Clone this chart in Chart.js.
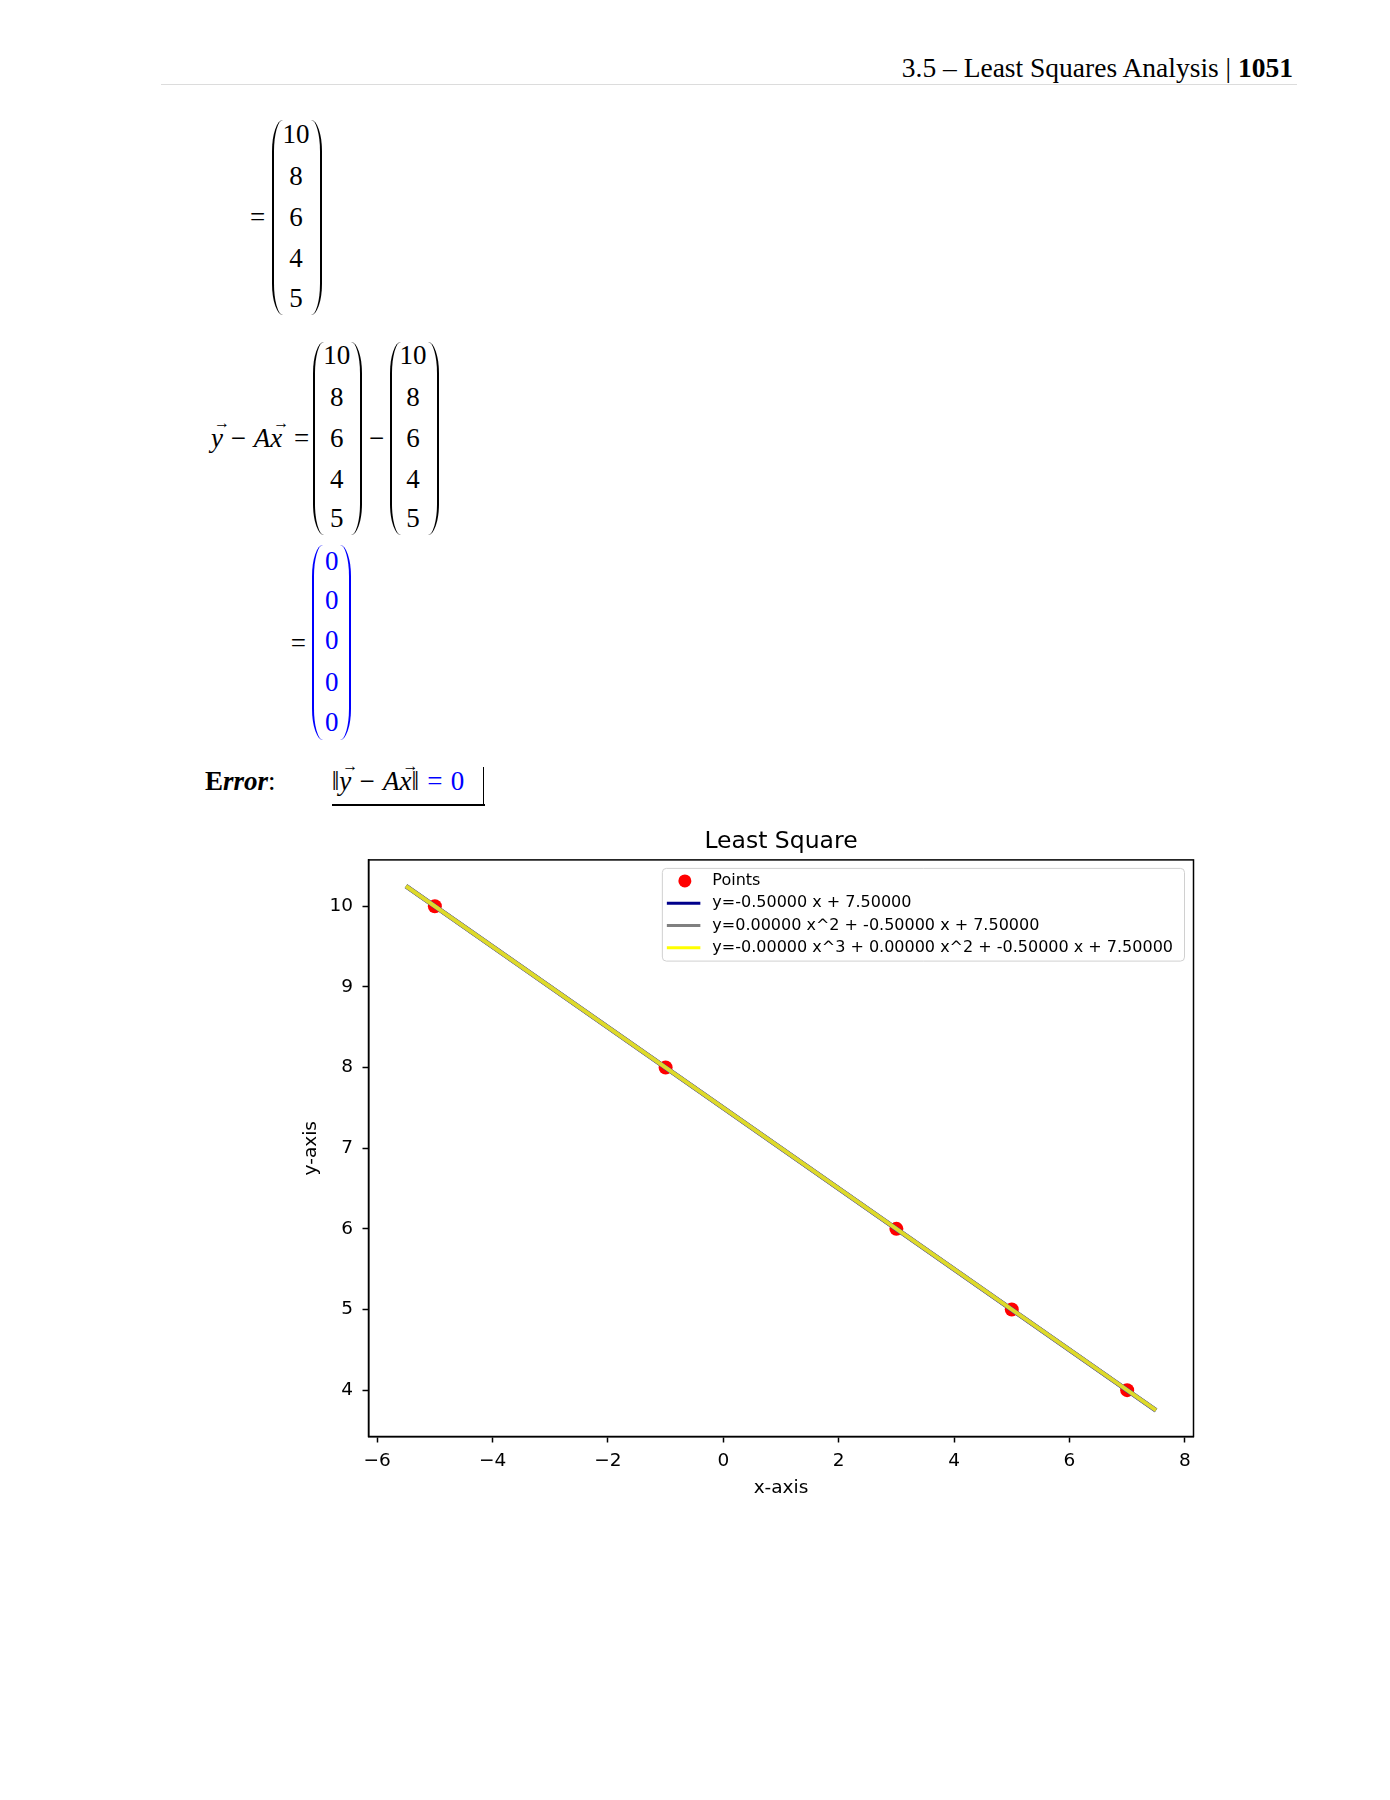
<!DOCTYPE html>
<html>
<head>
<meta charset="utf-8">
<script src="https://cdn.jsdelivr.net/npm/chart.js@4.4.0/dist/chart.umd.min.js"></script>
<style>
html,body{margin:0;padding:0;background:#fff;}
#page{position:relative;width:1390px;height:1800px;overflow:hidden;background:#fff;}
.s{position:absolute;font-family:'Liberation Serif','Times New Roman',serif;font-size:27px;line-height:1;color:#000;white-space:nowrap;}
.c{transform:translate(-50%,-50%);}
.lp,.rp{position:absolute;width:11px;box-sizing:border-box;}
.lp{border-left:2px solid #000;border-radius:12px 0 0 12px / 34px 0 0 34px;}
.rp{border-right:2px solid #000;border-radius:0 12px 12px 0 / 0 34px 34px 0;}
.blue{color:#0000ff;}
.lp.blue{border-left-color:#0000ff;}
.rp.blue{border-right-color:#0000ff;}
.v{position:relative;display:inline-block;font-style:italic;}
.v::before{content:'\2192';position:absolute;font-style:normal;font-size:16px;left:3px;top:-10px;}
.i{font-style:italic;}
#chartBox{position:absolute;left:250px;top:800px;width:1000px;height:700px;}
</style>
</head>
<body>
<div id="page">
  <!-- running header -->
  <div class="s" style="right:97px;top:53.5px;font-size:27.5px;">3.5 – Least Squares Analysis | <b>1051</b></div>
  <div style="position:absolute;left:161px;top:83.5px;width:1136px;height:1px;background:#dcdcdc;"></div>

  <!-- matrix 1 -->
  <div class="s c" style="left:257.5px;top:217px;">=</div>
  <div class="lp" style="left:272px;top:120px;height:195px;"></div>
  <div class="rp" style="left:310.5px;top:120px;height:195px;"></div>
  <div class="s c" style="left:296px;top:134px;">10</div>
  <div class="s c" style="left:296px;top:175.7px;">8</div>
  <div class="s c" style="left:296px;top:216.7px;">6</div>
  <div class="s c" style="left:296px;top:258.3px;">4</div>
  <div class="s c" style="left:296px;top:298px;">5</div>

  <!-- y - Ax = ... -->
  <div class="s" style="left:211px;top:424.5px;word-spacing:1px;"><span class="v">y</span> − <span class="i">A</span><span class="v">x</span><span style="margin-left:4px;"> =</span></div>
  <div class="lp" style="left:313px;top:342px;height:193px;"></div>
  <div class="rp" style="left:351px;top:342px;height:193px;"></div>
  <div class="s c" style="left:336.7px;top:355px;">10</div>
  <div class="s c" style="left:336.7px;top:396.7px;">8</div>
  <div class="s c" style="left:336.7px;top:438px;">6</div>
  <div class="s c" style="left:336.7px;top:479px;">4</div>
  <div class="s c" style="left:336.7px;top:518px;">5</div>
  <div class="s c" style="left:376.5px;top:438px;">−</div>
  <div class="lp" style="left:390px;top:342px;height:193px;"></div>
  <div class="rp" style="left:428px;top:342px;height:193px;"></div>
  <div class="s c" style="left:413px;top:355px;">10</div>
  <div class="s c" style="left:413px;top:396.7px;">8</div>
  <div class="s c" style="left:413px;top:438px;">6</div>
  <div class="s c" style="left:413px;top:479px;">4</div>
  <div class="s c" style="left:413px;top:518px;">5</div>

  <!-- = zero vector -->
  <div class="s c" style="left:298.3px;top:643px;">=</div>
  <div class="lp blue" style="left:311.7px;top:545px;height:195px;"></div>
  <div class="rp blue" style="left:339.5px;top:545px;height:195px;"></div>
  <div class="s c blue" style="left:331.7px;top:560.7px;">0</div>
  <div class="s c blue" style="left:331.7px;top:600px;">0</div>
  <div class="s c blue" style="left:331.7px;top:640px;">0</div>
  <div class="s c blue" style="left:331.7px;top:681.7px;">0</div>
  <div class="s c blue" style="left:331.7px;top:721.7px;">0</div>

  <!-- Error -->
  <div class="s" style="left:205px;top:768px;"><b>E</b><b><i>rror</i></b>:</div>
  <div class="s" style="left:331.7px;top:768px;word-spacing:1.5px;">‖<span class="v">y</span> − <span class="i">A</span><span class="v">x</span>‖<span class="blue"> = 0</span></div>
  <div style="position:absolute;left:331.7px;top:804px;width:153px;height:1.5px;background:#000;"></div>
  <div style="position:absolute;left:482.8px;top:766.7px;width:1.5px;height:38.8px;background:#000;"></div>

  <div id="chartBox"><canvas id="chart" width="1000" height="700"></canvas></div>
</div>

<script>
// ---- data ----
const pointX = [-5, -1, 3, 5, 7];
const pointY = [10, 8, 6, 5, 4];
const fitX = [-5.5, 7.5];
const linearY = [10.25, 3.75];
const quadraticY = [10.25, 3.75];
const cubicY = [10.25, 3.75];
const xTickValues = [-6, -4, -2, 0, 2, 4, 6, 8];
const yTickValues = [4, 5, 6, 7, 8, 9, 10];
const xRange = [-6.15, 8.15];
const yRange = [3.425, 10.575];
const seriesLabels = [
  'Points',
  'y=-0.50000 x + 7.50000',
  'y=0.00000 x^2 + -0.50000 x + 7.50000',
  'y=-0.00000 x^3 + 0.00000 x^2 + -0.50000 x + 7.50000'
];
const seriesColors = ['#ff0000', '#00008b', '#808080', '#ffff00'];
const chartTitle = 'Least Square';
const xTitle = 'x-axis';
const yTitle = 'y-axis';

const toXY = (xs, ys) => xs.map((x, i) => ({x: x, y: ys[i]}));
const minusFmt = v => String(v).replace('-', '\u2212');
const FONT = 'DejaVu Sans';

const framePlugin = {
  id: 'frame',
  afterDraw(chart) {
    const {ctx, chartArea: ca} = chart;
    ctx.save();
    ctx.strokeStyle = '#000';
    ctx.lineWidth = 1.5;
    ctx.strokeRect(ca.left, ca.top, ca.right - ca.left, ca.bottom - ca.top);
    ctx.restore();
  }
};

const legendPlugin = {
  id: 'innerLegend',
  afterDraw(chart) {
    const {ctx, chartArea: ca} = chart;
    const ds = chart.data.datasets;
    ctx.save();
    ctx.font = '16px "' + FONT + '"';
    const tw = Math.max(...ds.map(d => ctx.measureText(d.label).width));
    const right = ca.right - 9, top = ca.top + 8.5;
    const left = right - 11.5 - tw - 50;
    const h = 92.7, r = 4;
    ctx.beginPath();
    ctx.moveTo(left + r, top);
    ctx.arcTo(right, top, right, top + h, r);
    ctx.arcTo(right, top + h, left, top + h, r);
    ctx.arcTo(left, top + h, left, top, r);
    ctx.arcTo(left, top, right, top, r);
    ctx.closePath();
    ctx.fillStyle = 'rgba(255,255,255,0.85)';
    ctx.fill();
    ctx.strokeStyle = '#d0d0d0';
    ctx.lineWidth = 1;
    ctx.stroke();
    ds.forEach((d, i) => {
      const y = top + 12.5 + i * 22.3;
      if (d.showLine === false) {
        ctx.beginPath();
        ctx.arc(left + 22.5, y, 6.5, 0, Math.PI * 2);
        ctx.fillStyle = seriesColors[i];
        ctx.fill();
      } else {
        ctx.beginPath();
        ctx.moveTo(left + 4.5, y);
        ctx.lineTo(left + 38, y);
        ctx.strokeStyle = seriesColors[i];
        ctx.lineWidth = 3;
        ctx.stroke();
      }
      ctx.fillStyle = '#000';
      ctx.textBaseline = 'middle';
      ctx.textAlign = 'left';
      ctx.fillText(d.label, left + 50, y);
    });
    ctx.restore();
  }
};

const axisCommon = {
  type: 'linear',
  ticks: {color: '#000', font: {family: FONT, size: 18.5}, callback: v => minusFmt(v), autoSkip: false, maxRotation: 0},
  grid: {drawOnChartArea: false, drawTicks: true, tickLength: 6, tickColor: '#000', tickWidth: 1.5},
  border: {display: true, color: '#000', width: 1.5}
};

new Chart(document.getElementById('chart'), {
  type: 'line',
  data: {
    datasets: [
      {label: seriesLabels[0], data: toXY(pointX, pointY), showLine: false, pointRadius: 7, pointHoverRadius: 7,
       backgroundColor: seriesColors[0], borderColor: seriesColors[0], pointBorderWidth: 0, order: 4},
      {label: seriesLabels[1], data: toXY(fitX, linearY), borderColor: seriesColors[1], backgroundColor: seriesColors[1],
       borderWidth: 4.5, pointRadius: 0, order: 3},
      {label: seriesLabels[2], data: toXY(fitX, quadraticY), borderColor: seriesColors[2], backgroundColor: seriesColors[2],
       borderWidth: 4.5, pointRadius: 0, order: 2},
      {label: seriesLabels[3], data: toXY(fitX, cubicY), borderColor: 'rgba(245,240,20,0.8)', backgroundColor: seriesColors[3],
       borderWidth: 3.8, pointRadius: 0, order: 1}
    ]
  },
  options: {
    responsive: false,
    animation: false,
    devicePixelRatio: 1,
    layout: {padding: {left: 0, right: 56.5, top: 0, bottom: 0}, autoPadding: false},
    plugins: {
      legend: {display: false},
      tooltip: {enabled: false},
      title: {display: true, text: chartTitle, fullSize: false, color: '#000',
              font: {family: FONT, size: 23.5, weight: 'normal'}, padding: {top: 27.3, bottom: 4.4}}
    },
    scales: {
      x: Object.assign({}, axisCommon, {
        min: xRange[0], max: xRange[1],
        afterBuildTicks: s => { s.ticks = xTickValues.map(v => ({value: v})); },
        afterFit: s => { s.height = 63.5; },
        ticks: Object.assign({}, axisCommon.ticks, {padding: 7.5}),
        title: {display: true, text: xTitle, color: '#000', font: {family: FONT, size: 18.5}, padding: {top: 0, bottom: 1}}
      }),
      y: Object.assign({}, axisCommon, {
        min: yRange[0], max: yRange[1],
        afterBuildTicks: s => { s.ticks = yTickValues.map(v => ({value: v})); },
        afterFit: s => { s.width = 118.5; },
        ticks: Object.assign({}, axisCommon.ticks, {padding: 9.5}),
        title: {display: true, text: yTitle, color: '#000', font: {family: FONT, size: 18.5}, padding: {top: 50, bottom: 0}}
      })
    }
  },
  plugins: [framePlugin, legendPlugin]
});
</script>
</body>
</html>
